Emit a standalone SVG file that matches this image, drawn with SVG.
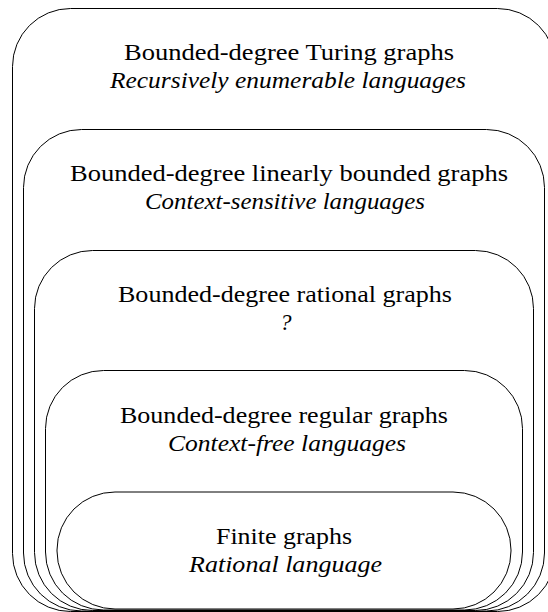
<svg xmlns="http://www.w3.org/2000/svg" width="548" height="612" viewBox="0 0 548 612">
<defs>
<style>
  .box { fill: #ffffff; stroke: #000000; stroke-width: 1; }
</style>
</defs>
<rect x="0" y="0" width="548" height="612" fill="#ffffff"/>
<g id="turing">
  <rect class="box" x="12.5" y="8.5" width="543" height="603" rx="58" ry="58"/>
  <text x="124" y="60" font-family="Liberation Serif" font-size="23" textLength="330" lengthAdjust="spacingAndGlyphs">Bounded-degree Turing graphs</text>
  <text x="110" y="88" font-family="Liberation Serif" font-size="23" font-style="italic" textLength="356" lengthAdjust="spacingAndGlyphs">Recursively enumerable languages</text>
</g>
<g id="linearly-bounded">
  <rect class="box" x="23.5" y="129.5" width="521" height="481.5" rx="58" ry="58"/>
  <text x="70" y="181" font-family="Liberation Serif" font-size="23" textLength="438" lengthAdjust="spacingAndGlyphs">Bounded-degree linearly bounded graphs</text>
  <text x="145" y="209" font-family="Liberation Serif" font-size="23" font-style="italic" textLength="280" lengthAdjust="spacingAndGlyphs">Context-sensitive languages</text>
</g>
<g id="rational">
  <rect class="box" x="34.5" y="250.5" width="499" height="360" rx="58" ry="58"/>
  <text x="118" y="302" font-family="Liberation Serif" font-size="23" textLength="334" lengthAdjust="spacingAndGlyphs">Bounded-degree rational graphs</text>
  <text x="280" y="330" font-family="Liberation Serif" font-size="23" font-style="italic">?</text>
</g>
<g id="regular">
  <rect class="box" x="45.5" y="370.5" width="477" height="239.5" rx="58" ry="58"/>
  <text x="120" y="423" font-family="Liberation Serif" font-size="23" textLength="328" lengthAdjust="spacingAndGlyphs">Bounded-degree regular graphs</text>
  <text x="168" y="451" font-family="Liberation Serif" font-size="23" font-style="italic" textLength="238" lengthAdjust="spacingAndGlyphs">Context-free languages</text>
</g>
<g id="finite">
  <rect class="box" x="57" y="492" width="454" height="117" rx="58" ry="58"/>
  <text x="216" y="544" font-family="Liberation Serif" font-size="23" textLength="136" lengthAdjust="spacingAndGlyphs">Finite graphs</text>
  <text x="189" y="572" font-family="Liberation Serif" font-size="23" font-style="italic" textLength="193" lengthAdjust="spacingAndGlyphs">Rational language</text>
</g>
</svg>
